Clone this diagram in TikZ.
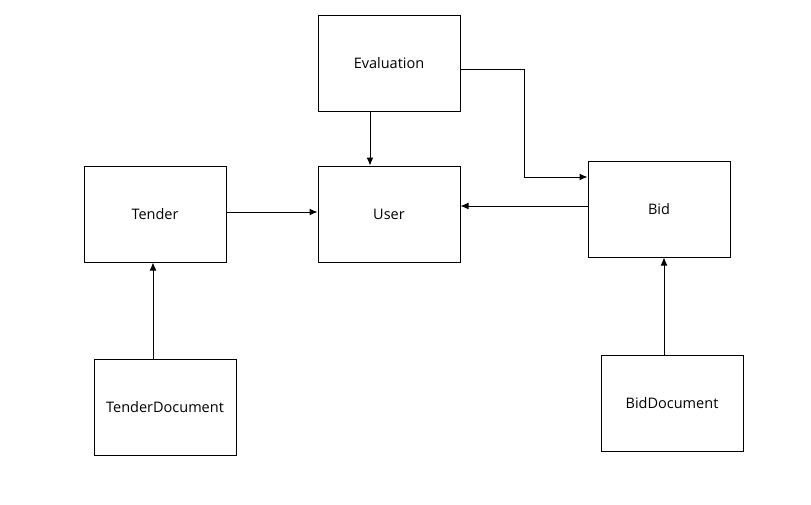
\documentclass[tikz,border=0pt]{standalone}
\usepackage{fontspec}
\setmainfont{Open Sans}
\usetikzlibrary{arrows.meta}
\begin{document}
\begin{tikzpicture}[x=1pt,y=-1pt,
  box/.style={draw,line width=1pt,minimum width=142pt,minimum height=96pt,inner sep=0pt,font=\fontsize{14.5}{17}\selectfont},
  conn/.style={line width=1pt,-{Latex[length=8pt,width=7pt]}}]
\useasboundingbox (0,0) rectangle (811,504);
\node[box] (eval) at (389,63) {Evaluation};
\node[box] (tender) at (155,214) {Tender};
\node[box] (user) at (389,214) {User};
\node[box] (bid) at (659,209) {Bid};
\node[box] (tdoc) at (165,407) {TenderDocument};
\node[box] (bdoc) at (672,403) {BidDocument};
\draw[conn] (eval.south -| 370,0) -- (user.north -| 370,0);
\draw[conn] (eval.east |- 0,69) -- (524,69) -- (524,177) -- (bid.west |- 0,177);
\draw[conn] (tender.east |- 0,212) -- (user.west |- 0,212);
\draw[conn] (bid.west |- 0,206) -- (user.east |- 0,206);
\draw[conn] (tdoc.north -| 153,0) -- (tender.south -| 153,0);
\draw[conn] (bdoc.north -| 664,0) -- (bid.south -| 664,0);
\end{tikzpicture}
\end{document}
